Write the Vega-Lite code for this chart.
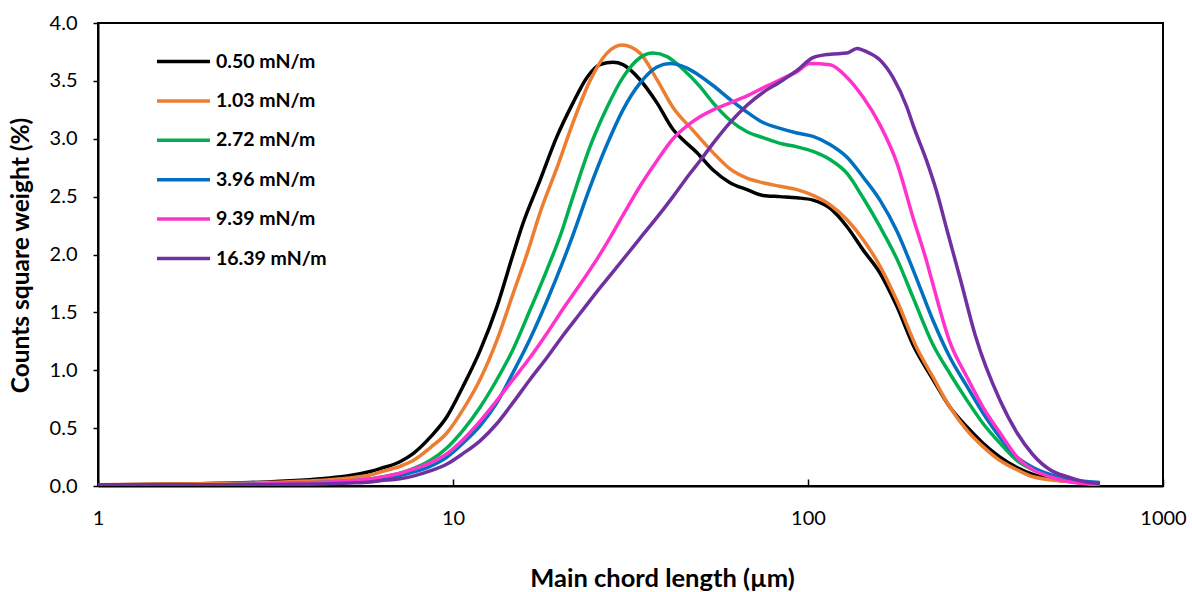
{
  "$schema": "https://vega.github.io/schema/vega-lite/v6.json",
  "autosize": {"type": "none"},
  "width": 1065,
  "height": 463,
  "padding": {"left": 98, "top": 23, "right": 29, "bottom": 106},
  "background": "white",
  "config": {
    "view": {"stroke": "#000000", "strokeWidth": 2},
    "font": "Lato"
  },
  "datasets": {
    "d": [
      {"s": "0.50 mN/m", "x": 1.0, "y": 0.01}, {"s": "0.50 mN/m", "x": 1.94, "y": 0.02}, {"s": "0.50 mN/m", "x": 2.68, "y": 0.03}, {"s": "0.50 mN/m", "x": 3.71, "y": 0.05}, {"s": "0.50 mN/m", "x": 4.5, "y": 0.07}, {"s": "0.50 mN/m", "x": 5.13, "y": 0.09}, {"s": "0.50 mN/m", "x": 5.84, "y": 0.125}, {"s": "0.50 mN/m", "x": 6.23, "y": 0.15}, {"s": "0.50 mN/m", "x": 7.09, "y": 0.21}, {"s": "0.50 mN/m", "x": 7.72, "y": 0.28}, {"s": "0.50 mN/m", "x": 8.62, "y": 0.42}, {"s": "0.50 mN/m", "x": 9.62, "y": 0.6}, {"s": "0.50 mN/m", "x": 10.67, "y": 0.86}, {"s": "0.50 mN/m", "x": 11.92, "y": 1.17}, {"s": "0.50 mN/m", "x": 13.3, "y": 1.55}, {"s": "0.50 mN/m", "x": 14.76, "y": 2.0}, {"s": "0.50 mN/m", "x": 15.75, "y": 2.27}, {"s": "0.50 mN/m", "x": 17.58, "y": 2.64}, {"s": "0.50 mN/m", "x": 19.63, "y": 3.02}, {"s": "0.50 mN/m", "x": 21.78, "y": 3.31}, {"s": "0.50 mN/m", "x": 23.85, "y": 3.53}, {"s": "0.50 mN/m", "x": 25.95, "y": 3.64}, {"s": "0.50 mN/m", "x": 28.23, "y": 3.66}, {"s": "0.50 mN/m", "x": 30.12, "y": 3.64}, {"s": "0.50 mN/m", "x": 33.63, "y": 3.51}, {"s": "0.50 mN/m", "x": 37.55, "y": 3.31}, {"s": "0.50 mN/m", "x": 41.67, "y": 3.08}, {"s": "0.50 mN/m", "x": 44.5, "y": 2.99}, {"s": "0.50 mN/m", "x": 48.68, "y": 2.88}, {"s": "0.50 mN/m", "x": 54.02, "y": 2.73}, {"s": "0.50 mN/m", "x": 60.3, "y": 2.62}, {"s": "0.50 mN/m", "x": 67.32, "y": 2.56}, {"s": "0.50 mN/m", "x": 74.68, "y": 2.51}, {"s": "0.50 mN/m", "x": 83.4, "y": 2.5}, {"s": "0.50 mN/m", "x": 93.11, "y": 2.49}, {"s": "0.50 mN/m", "x": 103.3, "y": 2.47}, {"s": "0.50 mN/m", "x": 115.3, "y": 2.4}, {"s": "0.50 mN/m", "x": 128.8, "y": 2.24}, {"s": "0.50 mN/m", "x": 142.9, "y": 2.04}, {"s": "0.50 mN/m", "x": 159.5, "y": 1.84}, {"s": "0.50 mN/m", "x": 178.1, "y": 1.55}, {"s": "0.50 mN/m", "x": 197.6, "y": 1.22}, {"s": "0.50 mN/m", "x": 225.0, "y": 0.92}, {"s": "0.50 mN/m", "x": 251.2, "y": 0.68}, {"s": "0.50 mN/m", "x": 280.5, "y": 0.51}, {"s": "0.50 mN/m", "x": 311.2, "y": 0.37}, {"s": "0.50 mN/m", "x": 347.4, "y": 0.25}, {"s": "0.50 mN/m", "x": 387.9, "y": 0.16}, {"s": "0.50 mN/m", "x": 430.2, "y": 0.1}, {"s": "0.50 mN/m", "x": 480.5, "y": 0.06}, {"s": "0.50 mN/m", "x": 536.6, "y": 0.04}, {"s": "0.50 mN/m", "x": 664.4, "y": 0.02},

      {"s": "1.03 mN/m", "x": 1.0, "y": 0.01}, {"s": "1.03 mN/m", "x": 1.94, "y": 0.02}, {"s": "1.03 mN/m", "x": 2.68, "y": 0.025}, {"s": "1.03 mN/m", "x": 3.71, "y": 0.04}, {"s": "1.03 mN/m", "x": 4.5, "y": 0.055}, {"s": "1.03 mN/m", "x": 5.13, "y": 0.07}, {"s": "1.03 mN/m", "x": 5.84, "y": 0.095}, {"s": "1.03 mN/m", "x": 6.23, "y": 0.12}, {"s": "1.03 mN/m", "x": 7.09, "y": 0.17}, {"s": "1.03 mN/m", "x": 7.72, "y": 0.22}, {"s": "1.03 mN/m", "x": 8.62, "y": 0.33}, {"s": "1.03 mN/m", "x": 9.62, "y": 0.46}, {"s": "1.03 mN/m", "x": 10.67, "y": 0.66}, {"s": "1.03 mN/m", "x": 11.92, "y": 0.92}, {"s": "1.03 mN/m", "x": 13.3, "y": 1.26}, {"s": "1.03 mN/m", "x": 14.76, "y": 1.66}, {"s": "1.03 mN/m", "x": 16.3, "y": 2.04}, {"s": "1.03 mN/m", "x": 17.58, "y": 2.36}, {"s": "1.03 mN/m", "x": 19.63, "y": 2.75}, {"s": "1.03 mN/m", "x": 21.78, "y": 3.14}, {"s": "1.03 mN/m", "x": 24.31, "y": 3.5}, {"s": "1.03 mN/m", "x": 27.15, "y": 3.74}, {"s": "1.03 mN/m", "x": 29.93, "y": 3.81}, {"s": "1.03 mN/m", "x": 33.63, "y": 3.74}, {"s": "1.03 mN/m", "x": 37.55, "y": 3.51}, {"s": "1.03 mN/m", "x": 41.67, "y": 3.27}, {"s": "1.03 mN/m", "x": 47.5, "y": 3.07}, {"s": "1.03 mN/m", "x": 54.02, "y": 2.88}, {"s": "1.03 mN/m", "x": 60.3, "y": 2.74}, {"s": "1.03 mN/m", "x": 67.32, "y": 2.66}, {"s": "1.03 mN/m", "x": 74.68, "y": 2.62}, {"s": "1.03 mN/m", "x": 83.4, "y": 2.59}, {"s": "1.03 mN/m", "x": 93.11, "y": 2.56}, {"s": "1.03 mN/m", "x": 103.3, "y": 2.51}, {"s": "1.03 mN/m", "x": 115.3, "y": 2.43}, {"s": "1.03 mN/m", "x": 128.8, "y": 2.3}, {"s": "1.03 mN/m", "x": 142.9, "y": 2.13}, {"s": "1.03 mN/m", "x": 159.5, "y": 1.9}, {"s": "1.03 mN/m", "x": 178.1, "y": 1.6}, {"s": "1.03 mN/m", "x": 202.8, "y": 1.19}, {"s": "1.03 mN/m", "x": 225.0, "y": 0.94}, {"s": "1.03 mN/m", "x": 251.2, "y": 0.68}, {"s": "1.03 mN/m", "x": 280.5, "y": 0.48}, {"s": "1.03 mN/m", "x": 311.2, "y": 0.34}, {"s": "1.03 mN/m", "x": 347.4, "y": 0.22}, {"s": "1.03 mN/m", "x": 387.9, "y": 0.14}, {"s": "1.03 mN/m", "x": 430.2, "y": 0.08}, {"s": "1.03 mN/m", "x": 536.6, "y": 0.04}, {"s": "1.03 mN/m", "x": 664.4, "y": 0.02},

      {"s": "2.72 mN/m", "x": 1.0, "y": 0.01}, {"s": "2.72 mN/m", "x": 1.94, "y": 0.01}, {"s": "2.72 mN/m", "x": 2.68, "y": 0.015}, {"s": "2.72 mN/m", "x": 3.71, "y": 0.025}, {"s": "2.72 mN/m", "x": 4.5, "y": 0.035}, {"s": "2.72 mN/m", "x": 5.13, "y": 0.045}, {"s": "2.72 mN/m", "x": 5.84, "y": 0.06}, {"s": "2.72 mN/m", "x": 6.23, "y": 0.075}, {"s": "2.72 mN/m", "x": 7.09, "y": 0.11}, {"s": "2.72 mN/m", "x": 7.72, "y": 0.15}, {"s": "2.72 mN/m", "x": 8.62, "y": 0.22}, {"s": "2.72 mN/m", "x": 9.62, "y": 0.33}, {"s": "2.72 mN/m", "x": 10.67, "y": 0.48}, {"s": "2.72 mN/m", "x": 11.92, "y": 0.68}, {"s": "2.72 mN/m", "x": 13.3, "y": 0.92}, {"s": "2.72 mN/m", "x": 14.76, "y": 1.18}, {"s": "2.72 mN/m", "x": 16.48, "y": 1.52}, {"s": "2.72 mN/m", "x": 18.4, "y": 1.87}, {"s": "2.72 mN/m", "x": 20.2, "y": 2.19}, {"s": "2.72 mN/m", "x": 21.78, "y": 2.5}, {"s": "2.72 mN/m", "x": 24.31, "y": 2.93}, {"s": "2.72 mN/m", "x": 27.15, "y": 3.27}, {"s": "2.72 mN/m", "x": 30.12, "y": 3.53}, {"s": "2.72 mN/m", "x": 33.63, "y": 3.7}, {"s": "2.72 mN/m", "x": 36.6, "y": 3.74}, {"s": "2.72 mN/m", "x": 40.07, "y": 3.71}, {"s": "2.72 mN/m", "x": 44.46, "y": 3.6}, {"s": "2.72 mN/m", "x": 49.64, "y": 3.45}, {"s": "2.72 mN/m", "x": 54.02, "y": 3.31}, {"s": "2.72 mN/m", "x": 60.3, "y": 3.16}, {"s": "2.72 mN/m", "x": 67.32, "y": 3.06}, {"s": "2.72 mN/m", "x": 74.68, "y": 3.01}, {"s": "2.72 mN/m", "x": 83.4, "y": 2.96}, {"s": "2.72 mN/m", "x": 93.11, "y": 2.93}, {"s": "2.72 mN/m", "x": 103.3, "y": 2.89}, {"s": "2.72 mN/m", "x": 115.3, "y": 2.82}, {"s": "2.72 mN/m", "x": 128.8, "y": 2.7}, {"s": "2.72 mN/m", "x": 142.9, "y": 2.49}, {"s": "2.72 mN/m", "x": 159.5, "y": 2.24}, {"s": "2.72 mN/m", "x": 178.1, "y": 1.96}, {"s": "2.72 mN/m", "x": 197.6, "y": 1.63}, {"s": "2.72 mN/m", "x": 225.0, "y": 1.22}, {"s": "2.72 mN/m", "x": 251.2, "y": 0.97}, {"s": "2.72 mN/m", "x": 280.5, "y": 0.74}, {"s": "2.72 mN/m", "x": 311.2, "y": 0.54}, {"s": "2.72 mN/m", "x": 347.4, "y": 0.37}, {"s": "2.72 mN/m", "x": 387.9, "y": 0.22}, {"s": "2.72 mN/m", "x": 430.2, "y": 0.14}, {"s": "2.72 mN/m", "x": 480.5, "y": 0.08}, {"s": "2.72 mN/m", "x": 536.6, "y": 0.05}, {"s": "2.72 mN/m", "x": 664.4, "y": 0.02},

      {"s": "3.96 mN/m", "x": 1.0, "y": 0.01}, {"s": "3.96 mN/m", "x": 1.94, "y": 0.01}, {"s": "3.96 mN/m", "x": 2.68, "y": 0.015}, {"s": "3.96 mN/m", "x": 3.71, "y": 0.022}, {"s": "3.96 mN/m", "x": 4.5, "y": 0.03}, {"s": "3.96 mN/m", "x": 5.13, "y": 0.038}, {"s": "3.96 mN/m", "x": 5.84, "y": 0.05}, {"s": "3.96 mN/m", "x": 6.23, "y": 0.065}, {"s": "3.96 mN/m", "x": 7.09, "y": 0.09}, {"s": "3.96 mN/m", "x": 7.72, "y": 0.12}, {"s": "3.96 mN/m", "x": 8.62, "y": 0.17}, {"s": "3.96 mN/m", "x": 9.62, "y": 0.25}, {"s": "3.96 mN/m", "x": 10.67, "y": 0.37}, {"s": "3.96 mN/m", "x": 11.92, "y": 0.52}, {"s": "3.96 mN/m", "x": 13.3, "y": 0.72}, {"s": "3.96 mN/m", "x": 14.76, "y": 0.98}, {"s": "3.96 mN/m", "x": 16.48, "y": 1.27}, {"s": "3.96 mN/m", "x": 18.4, "y": 1.6}, {"s": "3.96 mN/m", "x": 20.41, "y": 1.94}, {"s": "3.96 mN/m", "x": 21.78, "y": 2.17}, {"s": "3.96 mN/m", "x": 24.31, "y": 2.58}, {"s": "3.96 mN/m", "x": 27.15, "y": 2.95}, {"s": "3.96 mN/m", "x": 30.12, "y": 3.25}, {"s": "3.96 mN/m", "x": 33.63, "y": 3.48}, {"s": "3.96 mN/m", "x": 37.55, "y": 3.62}, {"s": "3.96 mN/m", "x": 40.87, "y": 3.65}, {"s": "3.96 mN/m", "x": 45.62, "y": 3.61}, {"s": "3.96 mN/m", "x": 48.68, "y": 3.56}, {"s": "3.96 mN/m", "x": 54.02, "y": 3.46}, {"s": "3.96 mN/m", "x": 60.3, "y": 3.34}, {"s": "3.96 mN/m", "x": 67.32, "y": 3.23}, {"s": "3.96 mN/m", "x": 74.68, "y": 3.14}, {"s": "3.96 mN/m", "x": 83.4, "y": 3.09}, {"s": "3.96 mN/m", "x": 93.11, "y": 3.05}, {"s": "3.96 mN/m", "x": 103.3, "y": 3.02}, {"s": "3.96 mN/m", "x": 115.3, "y": 2.95}, {"s": "3.96 mN/m", "x": 128.8, "y": 2.84}, {"s": "3.96 mN/m", "x": 142.9, "y": 2.67}, {"s": "3.96 mN/m", "x": 159.5, "y": 2.47}, {"s": "3.96 mN/m", "x": 178.1, "y": 2.2}, {"s": "3.96 mN/m", "x": 197.6, "y": 1.87}, {"s": "3.96 mN/m", "x": 225.0, "y": 1.43}, {"s": "3.96 mN/m", "x": 251.2, "y": 1.11}, {"s": "3.96 mN/m", "x": 280.5, "y": 0.86}, {"s": "3.96 mN/m", "x": 311.2, "y": 0.63}, {"s": "3.96 mN/m", "x": 347.4, "y": 0.42}, {"s": "3.96 mN/m", "x": 387.9, "y": 0.25}, {"s": "3.96 mN/m", "x": 430.2, "y": 0.16}, {"s": "3.96 mN/m", "x": 480.5, "y": 0.1}, {"s": "3.96 mN/m", "x": 536.6, "y": 0.06}, {"s": "3.96 mN/m", "x": 664.4, "y": 0.03},

      {"s": "9.39 mN/m", "x": 1.0, "y": 0.01}, {"s": "9.39 mN/m", "x": 1.94, "y": 0.01}, {"s": "9.39 mN/m", "x": 2.68, "y": 0.015}, {"s": "9.39 mN/m", "x": 3.71, "y": 0.025}, {"s": "9.39 mN/m", "x": 4.5, "y": 0.035}, {"s": "9.39 mN/m", "x": 5.13, "y": 0.045}, {"s": "9.39 mN/m", "x": 5.84, "y": 0.06}, {"s": "9.39 mN/m", "x": 6.23, "y": 0.075}, {"s": "9.39 mN/m", "x": 7.09, "y": 0.11}, {"s": "9.39 mN/m", "x": 7.72, "y": 0.145}, {"s": "9.39 mN/m", "x": 8.62, "y": 0.2}, {"s": "9.39 mN/m", "x": 9.62, "y": 0.28}, {"s": "9.39 mN/m", "x": 10.67, "y": 0.4}, {"s": "9.39 mN/m", "x": 11.92, "y": 0.56}, {"s": "9.39 mN/m", "x": 13.3, "y": 0.74}, {"s": "9.39 mN/m", "x": 14.76, "y": 0.92}, {"s": "9.39 mN/m", "x": 16.48, "y": 1.11}, {"s": "9.39 mN/m", "x": 18.4, "y": 1.32}, {"s": "9.39 mN/m", "x": 20.41, "y": 1.53}, {"s": "9.39 mN/m", "x": 22.79, "y": 1.74}, {"s": "9.39 mN/m", "x": 25.44, "y": 1.96}, {"s": "9.39 mN/m", "x": 27.15, "y": 2.1}, {"s": "9.39 mN/m", "x": 30.12, "y": 2.34}, {"s": "9.39 mN/m", "x": 33.63, "y": 2.59}, {"s": "9.39 mN/m", "x": 37.55, "y": 2.81}, {"s": "9.39 mN/m", "x": 41.67, "y": 3.0}, {"s": "9.39 mN/m", "x": 46.51, "y": 3.13}, {"s": "9.39 mN/m", "x": 49.64, "y": 3.19}, {"s": "9.39 mN/m", "x": 54.02, "y": 3.25}, {"s": "9.39 mN/m", "x": 60.3, "y": 3.31}, {"s": "9.39 mN/m", "x": 67.32, "y": 3.37}, {"s": "9.39 mN/m", "x": 74.68, "y": 3.44}, {"s": "9.39 mN/m", "x": 83.4, "y": 3.51}, {"s": "9.39 mN/m", "x": 93.11, "y": 3.58}, {"s": "9.39 mN/m", "x": 101.3, "y": 3.65}, {"s": "9.39 mN/m", "x": 115.3, "y": 3.64}, {"s": "9.39 mN/m", "x": 128.8, "y": 3.53}, {"s": "9.39 mN/m", "x": 142.9, "y": 3.36}, {"s": "9.39 mN/m", "x": 159.5, "y": 3.12}, {"s": "9.39 mN/m", "x": 178.1, "y": 2.79}, {"s": "9.39 mN/m", "x": 197.6, "y": 2.32}, {"s": "9.39 mN/m", "x": 216.4, "y": 1.93}, {"s": "9.39 mN/m", "x": 225.0, "y": 1.74}, {"s": "9.39 mN/m", "x": 251.2, "y": 1.24}, {"s": "9.39 mN/m", "x": 280.5, "y": 0.94}, {"s": "9.39 mN/m", "x": 311.2, "y": 0.68}, {"s": "9.39 mN/m", "x": 347.4, "y": 0.46}, {"s": "9.39 mN/m", "x": 387.9, "y": 0.25}, {"s": "9.39 mN/m", "x": 430.2, "y": 0.14}, {"s": "9.39 mN/m", "x": 480.5, "y": 0.08}, {"s": "9.39 mN/m", "x": 536.6, "y": 0.04}, {"s": "9.39 mN/m", "x": 664.4, "y": 0.01},

      {"s": "16.39 mN/m", "x": 1.0, "y": 0.01}, {"s": "16.39 mN/m", "x": 1.94, "y": 0.01}, {"s": "16.39 mN/m", "x": 2.68, "y": 0.01}, {"s": "16.39 mN/m", "x": 3.71, "y": 0.015}, {"s": "16.39 mN/m", "x": 4.5, "y": 0.02}, {"s": "16.39 mN/m", "x": 5.13, "y": 0.026}, {"s": "16.39 mN/m", "x": 5.84, "y": 0.035}, {"s": "16.39 mN/m", "x": 6.23, "y": 0.045}, {"s": "16.39 mN/m", "x": 7.09, "y": 0.062}, {"s": "16.39 mN/m", "x": 7.72, "y": 0.085}, {"s": "16.39 mN/m", "x": 8.62, "y": 0.13}, {"s": "16.39 mN/m", "x": 9.62, "y": 0.19}, {"s": "16.39 mN/m", "x": 10.67, "y": 0.28}, {"s": "16.39 mN/m", "x": 11.92, "y": 0.39}, {"s": "16.39 mN/m", "x": 13.3, "y": 0.54}, {"s": "16.39 mN/m", "x": 14.76, "y": 0.72}, {"s": "16.39 mN/m", "x": 16.48, "y": 0.92}, {"s": "16.39 mN/m", "x": 18.4, "y": 1.11}, {"s": "16.39 mN/m", "x": 20.41, "y": 1.3}, {"s": "16.39 mN/m", "x": 22.79, "y": 1.49}, {"s": "16.39 mN/m", "x": 25.44, "y": 1.68}, {"s": "16.39 mN/m", "x": 28.23, "y": 1.85}, {"s": "16.39 mN/m", "x": 30.92, "y": 2.0}, {"s": "16.39 mN/m", "x": 33.63, "y": 2.14}, {"s": "16.39 mN/m", "x": 37.55, "y": 2.32}, {"s": "16.39 mN/m", "x": 41.67, "y": 2.5}, {"s": "16.39 mN/m", "x": 46.51, "y": 2.7}, {"s": "16.39 mN/m", "x": 49.64, "y": 2.81}, {"s": "16.39 mN/m", "x": 54.02, "y": 2.96}, {"s": "16.39 mN/m", "x": 60.3, "y": 3.14}, {"s": "16.39 mN/m", "x": 67.32, "y": 3.29}, {"s": "16.39 mN/m", "x": 74.68, "y": 3.4}, {"s": "16.39 mN/m", "x": 83.4, "y": 3.49}, {"s": "16.39 mN/m", "x": 93.11, "y": 3.59}, {"s": "16.39 mN/m", "x": 103.3, "y": 3.7}, {"s": "16.39 mN/m", "x": 115.3, "y": 3.73}, {"s": "16.39 mN/m", "x": 128.8, "y": 3.74}, {"s": "16.39 mN/m", "x": 137.4, "y": 3.78}, {"s": "16.39 mN/m", "x": 146.6, "y": 3.75}, {"s": "16.39 mN/m", "x": 159.5, "y": 3.68}, {"s": "16.39 mN/m", "x": 173.5, "y": 3.53}, {"s": "16.39 mN/m", "x": 190.1, "y": 3.27}, {"s": "16.39 mN/m", "x": 197.6, "y": 3.12}, {"s": "16.39 mN/m", "x": 216.4, "y": 2.8}, {"s": "16.39 mN/m", "x": 230.0, "y": 2.55}, {"s": "16.39 mN/m", "x": 246.4, "y": 2.21}, {"s": "16.39 mN/m", "x": 269.0, "y": 1.78}, {"s": "16.39 mN/m", "x": 296.0, "y": 1.3}, {"s": "16.39 mN/m", "x": 347.4, "y": 0.74}, {"s": "16.39 mN/m", "x": 387.9, "y": 0.46}, {"s": "16.39 mN/m", "x": 430.2, "y": 0.27}, {"s": "16.39 mN/m", "x": 480.5, "y": 0.14}, {"s": "16.39 mN/m", "x": 536.6, "y": 0.08}, {"s": "16.39 mN/m", "x": 595.0, "y": 0.04}, {"s": "16.39 mN/m", "x": 664.4, "y": 0.02}
    ]
  },
  "data": {"name": "d"},
  "mark": {"type": "line", "strokeWidth": 3.5, "interpolate": "monotone", "clip": true},
  "encoding": {
    "x": {
      "field": "x", "type": "quantitative",
      "scale": {"type": "log", "domain": [1, 1000], "nice": false},
      "axis": {
        "title": "Main chord length (µm)",
        "values": [1, 10, 100, 1000],
        "format": "d",
        "grid": false,
        "domainColor": "#000000", "domainWidth": 2,
        "tickColor": "#000000", "tickWidth": 1.5, "tickSize": -7,
        "labelFont": "Lato", "labelFontSize": 20, "labelColor": "#000000", "labelPadding": 29,
        "labelFlush": false, "labelOverlap": false,
        "titleFont": "Lato", "titleFontSize": 25.5, "titleFontWeight": "bold", "titleColor": "#000000",
        "titleX": 564, "titleY": 100, "titleBaseline": "alphabetic", "titleAlign": "center"
      }
    },
    "y": {
      "field": "y", "type": "quantitative",
      "scale": {"domain": [0, 4], "nice": false},
      "axis": {
        "title": "Counts square weight (%)",
        "values": [0, 0.5, 1, 1.5, 2, 2.5, 3, 3.5, 4],
        "format": ".1f",
        "grid": false,
        "domainColor": "#000000", "domainWidth": 2,
        "tickColor": "#000000", "tickWidth": 1.5, "tickSize": 5,
        "labelFont": "Lato", "labelFontSize": 20, "labelColor": "#000000", "labelPadding": 16,
        "labelFlush": false, "labelOverlap": false,
        "titleFont": "Lato", "titleFontSize": 24.5, "titleFontWeight": "bold", "titleColor": "#000000",
        "titleX": -77, "titleY": 232, "titleAngle": -90, "titleAlign": "center", "titleBaseline": "middle"
      }
    },
    "color": {
      "field": "s", "type": "nominal",
      "sort": ["0.50 mN/m", "1.03 mN/m", "2.72 mN/m", "3.96 mN/m", "9.39 mN/m", "16.39 mN/m"],
      "scale": {
        "domain": ["0.50 mN/m", "1.03 mN/m", "2.72 mN/m", "3.96 mN/m", "9.39 mN/m", "16.39 mN/m"],
        "range": ["#000000", "#ED7D31", "#00B050", "#0070C0", "#FF33CC", "#7030A0"]
      },
      "legend": {
        "title": null,
        "orient": "none",
        "legendX": 57,
        "legendY": 10,
        "padding": 0,
        "symbolType": "stroke",
        "symbolSize": 2809,
        "symbolStrokeWidth": 3.5,
        "rowPadding": 1.4,
        "labelOffset": 4,
        "labelFont": "Lato", "labelFontSize": 19.5, "labelFontWeight": "bold", "labelColor": "#000000",
        "labelLimit": 300
      }
    }
  }
}
